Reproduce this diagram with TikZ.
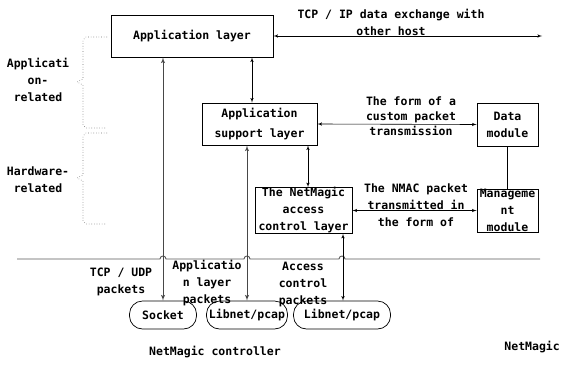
\documentclass[tikz,border=0pt]{standalone}
\usepackage{fontspec}
\setmainfont{DejaVu Sans Mono}
\usetikzlibrary{arrows,calc}

\tikzset{
  txt/.style={font=\bfseries\fontsize{11.5}{17}\selectfont},
  layerbox/.style={txt, draw, line width=0.8pt, inner sep=0pt, align=center},
  libbox/.style={txt, draw, line width=0.7pt, rounded corners=13pt, inner sep=0pt},
  lbl/.style={txt, align=center, inner sep=0pt},
  link/.style={<->, line width=0.6pt},
  feed/.style={<->, line width=1pt, black!72},
  brace/.style={dotted, line width=0.6pt, black!55},
}

\begin{document}
\begin{tikzpicture}[>=latex', x=1pt, y=-1pt]
  \useasboundingbox (0,0) rectangle (561,364);

  % boxes
  \node[layerbox, minimum width=162pt, minimum height=42pt] (applayer) at (192,36) {Application layer};
  \node[layerbox, minimum width=115pt, minimum height=42pt] (support) at (259.5,124) {Application\\[3pt]support layer};
  \node[layerbox, minimum width=61pt, minimum height=43pt] (datam) at (507.5,124.5) {Data\\module};
  \node[layerbox, minimum width=97pt, minimum height=43pt] (access) at (303.5,210.5) {The NetMagic\\access\\control layer};
  \node[layerbox, minimum width=61pt, minimum height=43pt] (manage) at (507.5,210.5) {Manageme\\nt\\module};

  \node[libbox, minimum width=67pt, minimum height=28pt] (socket) at (163,315) {Socket};
  \node[libbox, minimum width=81pt, minimum height=28pt] (libA) at (247,315) {Libnet/pcap};
  \node[libbox, minimum width=97pt, minimum height=28pt] (libB) at (342,315) {Libnet/pcap};

  \coordinate (hostend) at (542,36);

  % links between layers
  \draw[link] (applayer.east) -- (hostend);
  \node[lbl] (tcpip) at (391,22) {TCP / IP data exchange with\\other host};
  \draw[link] ([xshift=60pt]applayer.south) -- ([xshift=60pt]applayer.south |- support.north);
  \draw[link] (support.east) -- (datam.west);
  \node[lbl, font=\bfseries\fontsize{11.5}{15}\selectfont] (custom) at (411,116) {The form of a\\custom packet\\transmission};
  \draw[link] ([xshift=4.5pt]access.north) -- ([xshift=4.5pt]access.north |- support.south);
  \draw[link] (access.east) -- (manage.west);
  \node[lbl] (nmac) at (416,205) {The NMAC packet\\transmitted in\\the form of};
  \draw[line width=0.6pt] (datam.south) -- (manage.north);

  % boundary line with hops
  \draw[line width=0.9pt, black!65] (17,259) -- (160,259) .. controls (160,255) and (166,255) .. (166,259)
    -- (244,259) .. controls (244,255) and (250,255) .. (250,259)
    -- (339,259) .. controls (339,255) and (345,255) .. (345,259) -- (540,259);

  % packets down to the controller
  \draw[feed] (socket.north) -- (socket.north |- applayer.south);
  \draw[feed] (libA.north) -- (libA.north |- support.south);
  \draw[link] ([xshift=1pt]libB.north) -- ([xshift=1pt]libB.north |- access.south);
  \node[lbl] (tcpudp) at (121,282) {TCP / UDP\\packets};
  \node[lbl] (apppkt) at (207,283) {Applicatio\\n layer\\packets};
  \node[lbl] (accpkt) at (303,284) {Access\\control\\packets};

  \node[lbl] (ctrl) at (215,352) {NetMagic controller};
  \node[lbl, anchor=east] (nm) at (560,347) {NetMagic};

  % left braces
  \draw[brace] (107,37) -- (86,37) -- (83,40) -- (83,79) -- (77,82) -- (83,85) -- (83,125) -- (86,128) -- (107,128);
  \draw[brace] (107,133) -- (86,133) -- (83,136) -- (83,175) -- (77,178) -- (83,181) -- (83,221) -- (86,224) -- (107,224);
  \node[lbl] (apprel) at (38,80) {Applicati\\on-\\related};
  \node[lbl] (hwrel) at (38,180) {Hardware-\\related};
\end{tikzpicture}
\end{document}
